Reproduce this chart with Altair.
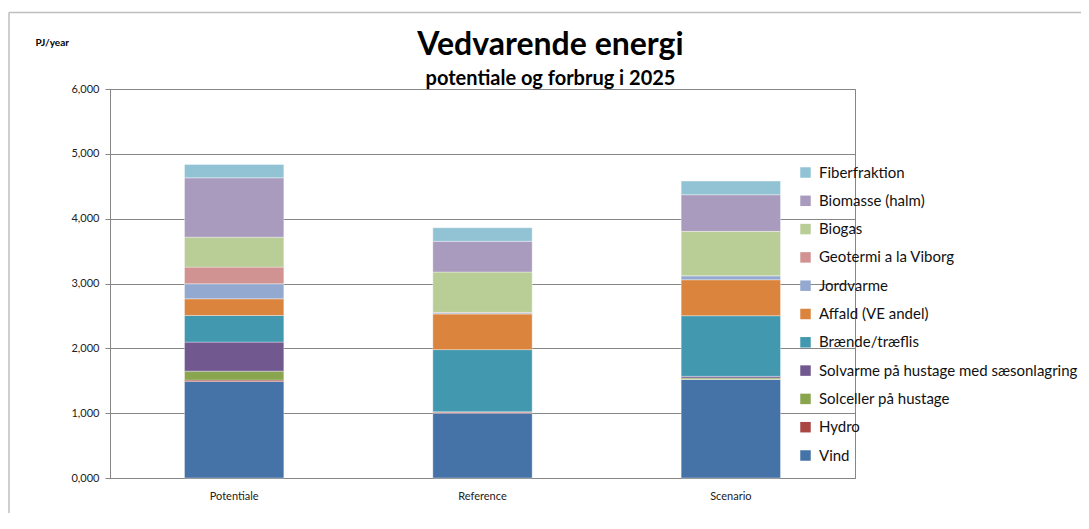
import altair as alt
import pandas as pd

categories = ["Potentiale", "Reference", "Scenario"]
series = ["Vind", "Hydro", "Solceller på hustage", "Solvarme på hustage med sæsonlagring",
          "Brænde/træflis", "Affald (VE andel)", "Jordvarme", "Geotermi a la Viborg",
          "Biogas", "Biomasse (halm)", "Fiberfraktion"]
colors = ["#4572A7", "#AA4643", "#89A54E", "#71588F", "#4198AF", "#DB843D",
          "#93A9CF", "#D19392", "#B9CD96", "#A99BBD", "#91C3D5"]

vind = [1490, 1000, 1520]
hydro = [20, 20, 3]
solceller = [138, 0, 20]
solvarme = [448, 0, 25]
braende = [411, 960, 935]
affald = [257, 550, 555]
jordvarme = [232, 15, 62]
geotermi = [257, 10, 0]
biogas = [462, 622, 684]
biomasse = [915, 473, 565]
fiber = [207, 210, 211]

values = [vind, hydro, solceller, solvarme, braende, affald, jordvarme,
          geotermi, biogas, biomasse, fiber]

rows = []
for i, (name, vals) in enumerate(zip(series, values)):
    for c, v in zip(categories, vals):
        rows.append({"Kategori": c, "Serie": name, "Værdi": v, "idx": i})
df = pd.DataFrame(rows)

FONT = "Lato"

bars = alt.Chart(df).mark_bar(stroke="#ffffff", strokeWidth=0.6, strokeOpacity=0.6).encode(
    x=alt.X("Kategori:N", sort=categories,
            scale=alt.Scale(paddingInner=0.6, paddingOuter=0.3),
            axis=alt.Axis(title=None, labelAngle=0, ticks=False, labelPadding=12,
                          labelFontSize=11, labelColor="#222", labelFont=FONT,
                          domainColor="#868686")),
    y=alt.Y("Værdi:Q", stack="zero",
            scale=alt.Scale(domain=[0, 6000], nice=False),
            axis=alt.Axis(values=[0, 1000, 2000, 3000, 4000, 5000, 6000],
                          labelExpr="replace(format(datum.value/1000, '.3f'), '.', ',')",
                          title="PJ/year", titleAngle=0, titleAlign="left",
                          titleBaseline="middle", titleX=-75, titleY=-47,
                          titleFontSize=10, titleFontWeight="bold", titleFont=FONT,
                          titleColor="#000",
                          labelFontSize=11, labelColor="#222", labelFont=FONT,
                          labelPadding=6, tickSize=5, tickColor="#868686",
                          domainColor="#868686", gridColor="#868686", gridWidth=1)),
    color=alt.Color("Serie:N",
                    scale=alt.Scale(domain=series[::-1], range=colors[::-1]),
                    legend=alt.Legend(title=None, orient="none", legendX=688, legendY=76,
                                      symbolType="square", symbolSize=110,
                                      symbolStrokeWidth=0, labelFontSize=15,
                                      labelFont=FONT, labelColor="#111",
                                      rowPadding=12.3, labelOffset=6, labelLimit=400)),
    order=alt.Order("idx:Q", sort="ascending"),
)

# chart-area frame (decoration, like the spreadsheet chart border)
frame_top = alt.Chart().mark_rule(color="#BFBFBF", strokeWidth=1.5).encode(
    x=alt.value(-101), x2=alt.value(971), y=alt.value(-76.5))
frame_left = alt.Chart().mark_rule(color="#BFBFBF", strokeWidth=1.5).encode(
    x=alt.value(-101), y=alt.value(-76.5), y2=alt.value(440))

chart = alt.layer(bars, frame_top, frame_left).properties(
    width=745, height=389,
    title=alt.TitleParams(text="Vedvarende energi", subtitle="potentiale og forbrug i 2025",
                          font=FONT, fontSize=32, fontWeight="bold", color="#000",
                          subtitleFont=FONT, subtitleFontSize=20, subtitleFontWeight="bold",
                          subtitleColor="#000", anchor="middle", dx=68, offset=-78,
                          subtitlePadding=7),
    autosize=alt.AutoSizeParams(type="none"),
    padding={"left": 102, "top": 81, "right": 226, "bottom": 35},
).configure_view(stroke="#868686", strokeWidth=1)

chart.save("out.html", embed_options={"renderer": "svg", "actions": False})
